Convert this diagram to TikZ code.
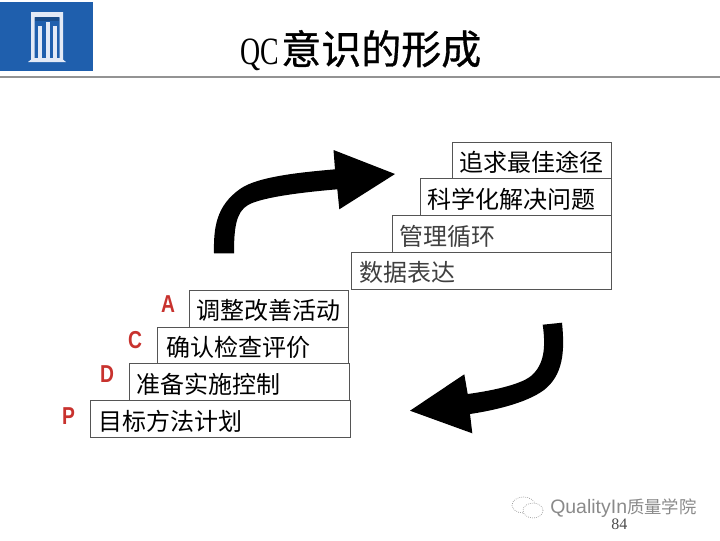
\documentclass[tikz,border=0pt]{standalone}
\usepackage{fontspec}
\setmainfont{Liberation Serif}
\newfontfamily\cjk{Noto Sans CJK SC}
\newfontfamily\cjktitle[RawFeature={embolden=0.8}]{Noto Sans CJK SC}
\newfontfamily\latinsans{Liberation Sans}
\definecolor{logoblue}{HTML}{1F5FAD}
\definecolor{logopale}{HTML}{E3EAF6}
\definecolor{letterred}{HTML}{C8322E}
\definecolor{framegray}{HTML}{555555}
\definecolor{markgray}{HTML}{8A8A8A}
\tikzset{
  stepbox/.style={draw=framegray,line width=0.7pt,fill=white,anchor=north west,
    minimum height=27.75pt,inner xsep=5.5pt,inner ysep=0pt,align=left,
    font=\cjk\fontsize{18pt}{20pt}\selectfont,text=black},
  lettermark/.style={text=letterred,inner sep=0pt,xscale=.85,yscale=1.08,
    font=\latinsans\bfseries\fontsize{17pt}{20pt}\selectfont},
  blockarrow/.style={fill=black,draw=none},
  logobar/.style={fill=logopale,draw=none},
}
\newcommand{\stepnode}[6]{%
  \node[stepbox,text width=\dimexpr#4pt*3/4-11pt\relax,#6] (#1) at (#2,#3) {\raisebox{-8.3pt}[0pt][0pt]{#5}};}
\begin{document}
\begin{tikzpicture}[x=0.75pt,y=-0.75pt]
\useasboundingbox (0,0) rectangle (720,540);
% logo
\fill[logoblue] (0,2) rectangle (93,71);
\path[logobar,even odd rule] (31,12) rectangle (63,60) (34.5,17) rectangle (59.5,60);
\fill[logobar] (28,62) -- (33,58) -- (61,58) -- (66,62) -- cycle;
\fill[logoblue!80!black] (35,17) rectangle (59,21);
\fill[logobar] (37.5,26) rectangle (42,58);
\fill[logobar] (46,22) rectangle (49.5,62);
\fill[logobar] (52.5,26) rectangle (56.5,58);
% title rule
\fill[gray!85] (0,76.3) rectangle (720,78);
% title
\node[inner sep=0pt,anchor=base west,xscale=.72,font=\fontsize{29pt}{32pt}\selectfont] (titlea) at (240,64) {QC};
\node[inner sep=0pt,anchor=base west,font=\cjktitle\fontsize{30pt}{32pt}\selectfont] (titleb) at (281,64) {意识的形成};
% upper steps
\stepnode{u1}{451.7}{141.5}{159.5}{追求最佳途径}{minimum width=119.6pt}
\stepnode{u2}{419.7}{178.3}{191.5}{科学化解决问题}{minimum width=143.6pt}
\stepnode{u3}{391.7}{215}{219.3}{\textcolor{black!75}{管理循环}}{minimum width=164.4pt}
\stepnode{u4}{351.2}{251.8}{259.8}{\textcolor{black!75}{数据表达}}{minimum width=194.8pt}
% lower steps
\stepnode{l1}{189}{289.5}{159}{调整改善活动}{minimum width=119.2pt}
\stepnode{l2}{157}{326.5}{191}{\hspace{1pt}确认检查评价}{minimum width=143.2pt}
\stepnode{l3}{128.7}{363.3}{220}{准备实施控制}{minimum width=165pt}
\stepnode{l4}{90}{400.3}{260}{\hspace{0.7pt}目标方法计划}{minimum width=195pt}
% letters
\node[lettermark] (la) at (168,304) {A};
\node[lettermark] (lc) at (135,340) {C};
\node[lettermark] (ld) at (107,374) {D};
\node[lettermark] (lp) at (68.5,416) {P};
% rising arrow
\path[blockarrow] (214,253.3)
  .. controls (213.5,228) and (216,206) .. (240,189)
  .. controls (258,176) and (305,172) .. (335,169.3)
  -- (333.5,150) -- (395,174) -- (339.3,209.3) -- (337.3,189.3)
  .. controls (305,192) and (262,197) .. (248,205)
  .. controls (236,212) and (234,228) .. (234,253.3) -- cycle;
% falling arrow
\path[blockarrow] (542.7,324.7) -- (562,322.7)
  .. controls (565,352) and (563,375) .. (544,390)
  .. controls (525,404) and (490,411) .. (470,414)
  -- (472.3,433.3) -- (410,410.7) -- (464.3,374.3) -- (467.7,394)
  .. controls (490,391) and (520,385) .. (531,376)
  .. controls (544,365) and (546,348) .. (542.7,324.7) -- cycle;
% watermark
\begin{scope}[draw=markgray,line width=0.5pt,densely dotted,fill=white]
\draw (523.5,505) ellipse (11.5 and 8);
\filldraw (533,510.5) ellipse (10 and 7.5);
\end{scope}
\node[inner sep=0pt,anchor=base west,text=markgray,font=\latinsans\fontsize{14.6pt}{16pt}\selectfont] (markl) at (550,513) {QualityIn};
\node[inner sep=0pt,anchor=base west,text=markgray,font=\cjk\fontsize{13pt}{14pt}\selectfont] (markc) at (627,513) {质量学院};
\node[inner sep=0pt,anchor=base west,text=black!70,font=\fontsize{12pt}{14pt}\selectfont] (pageno) at (611,529) {84};
\end{tikzpicture}
\end{document}
